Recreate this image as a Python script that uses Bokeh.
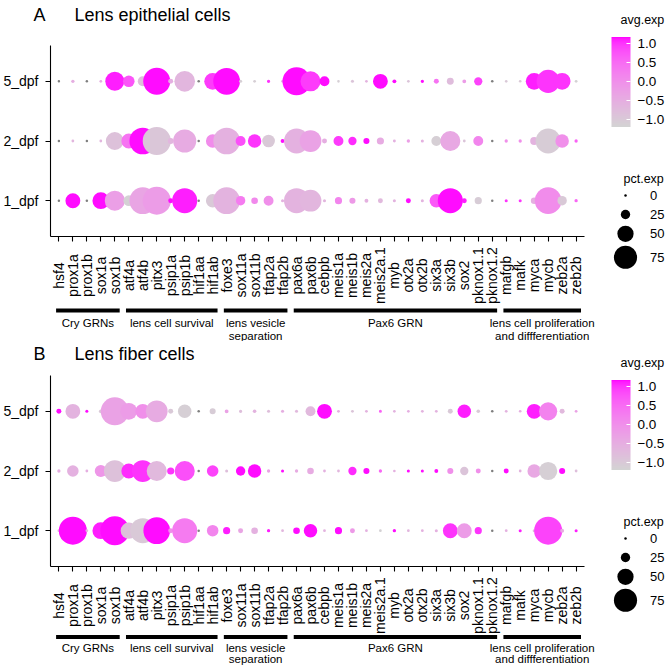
import math
import numpy as np
from bokeh.plotting import figure
from bokeh.models import (ColumnDataSource, FactorRange, Range1d, LinearColorMapper,
                          ColorBar, FixedTicker, CustomJSTickFormatter)
from bokeh.layouts import column, row
from bokeh.transform import transform
from bokeh.core.properties import value
from bokeh.embed import file_html
from bokeh.resources import INLINE

nan = float("nan")

# ---------------- DATA ----------------
genes = ["hsf4", "prox1a", "prox1b", "sox1a", "sox1b", "atf4a", "atf4b", "pitx3", "psip1a", "psip1b",
         "hif1aa", "hif1ab", "foxe3", "sox11a", "sox11b", "tfap2a", "tfap2b", "pax6a", "pax6b", "cebpb",
         "meis1a", "meis1b", "meis2a", "meis2a.1", "myb", "otx2a", "otx2b", "six3a", "six3b", "sox2",
         "pknox1.1", "pknox1.2", "mafgb", "mafk", "myca", "mycb", "zeb2a", "zeb2b"]
days = ["1_dpf", "2_dpf", "5_dpf"]

# Panel A: lens epithelial cells
pct_A_5dpf = [0, 3, 0, 1, 60, 33, 27, 89, 9, 66, 0, 52, 88, 2, 1, 3, 1, 93, 64, 27,
              0.5, 2, 0.5, 45, 5, 0.5, 3, 9, 16, 5, 21, 0, 0.5, 0.5, 52, 75, 52, 1]
avg_A_5dpf = [nan, -0.5, nan, -0.5, 1.1, 0.75, -0.8, 1.15, -0.5, -0.65, nan, 0.95, 1.15, -1.1, -1.1, 1.0, -0.6, 1.15, 0.95, 1.15,
              -1.1, -0.9, -0.6, 1.15, 1.15, -0.9, 1.15, 0.4, -0.75, -0.2, 0.9, nan, -1.0, -1.0, 1.1, 1.0, 1.0, -1.15]
pct_A_2dpf = [0, 1, 0, 1, 56, 45, 88, 93, 12, 75, 0, 40, 88, 27, 40, 37, 5, 82, 70, 9,
              27, 21, 13, 17, 1.5, 3, 2, 27, 64, 1, 27, 0, 3, 3, 20, 82, 40, 3]
avg_A_2dpf = [nan, -0.65, nan, -0.65, -0.85, 0.4, 1.15, -0.95, -0.65, -0.45, nan, 0.05, -0.55, 0.8, 1.0, -1.0, 1.15, -0.55, -0.3, -0.5,
              0.95, 1.05, 1.15, -0.45, -0.55, -0.25, -0.55, -1.1, -0.4, -0.9, 0.15, nan, 0.0, 0.0, -0.6, -1.05, 0.0, 0.6]
pct_A_1dpf = [0, 45, 0, 52, 64, 30, 88, 93, 9, 82, 0, 40, 88, 25, 15, 27, 2, 82, 70, 2,
              17, 13, 5, 9, 2, 9, 2, 40, 82, 9, 17, 0, 2, 2, 15, 88, 25, 3]
avg_A_1dpf = [nan, 1.15, nan, 1.15, -0.25, -1.15, -0.35, -0.2, 1.15, 1.1, nan, -1.0, -0.6, 0.3, 0.1, 0.0, -0.55, -0.6, -0.65, -0.65,
              0.15, -0.15, -0.55, -0.7, -0.6, 1.15, -0.6, 0.7, 1.15, 1.1, -1.05, nan, 1.0, 1.0, -0.5, 0.05, -1.0, 0.55]

# Panel B: lens fiber cells
pct_B_5dpf = [9, 45, 2, 5, 93, 52, 45, 70, 9, 40, 0, 13, 5, 3, 4, 2, 2, 2, 27, 45,
              1, 1, 1, 2, 0.5, 0.5, 1, 1, 9, 40, 4, 0, 1, 0.5, 45, 57, 9, 1]
avg_B_5dpf = [1.15, -0.6, 1.15, -1.0, -0.3, -0.2, 0.0, -0.45, -1.0, -1.1, nan, -1.05, -0.3, -0.8, -0.6, -0.8, -0.5, -0.7, -0.7, 1.15,
              -0.5, -0.9, -0.6, 0.6, -0.6, -0.5, -0.6, -0.6, -1.0, 1.1, -1.0, nan, -0.6, -0.5, 1.1, 0.2, -0.7, -0.3]
pct_B_2dpf = [3, 33, 1, 35, 70, 45, 70, 64, 17, 64, 0, 33, 2, 25, 40, 3, 2, 3, 15, 1,
              1, 21, 13, 3, 0.5, 2, 2, 5, 13, 21, 9, 0, 9, 1, 40, 57, 13, 1]
avg_B_2dpf = [-0.5, -0.55, -0.5, -0.1, -0.85, 1.05, 1.0, -0.7, 1.0, 0.8, nan, 0.9, -0.8, 1.15, 1.15, -0.3, 1.15, -0.45, -0.45, -0.55,
              -0.65, 1.05, 1.15, 0.55, -0.55, 1.15, 1.15, 1.15, 0.0, -0.9, 0.0, nan, 1.15, -0.6, -0.4, -1.1, 1.15, -0.8]
pct_B_1dpf = [1, 93, 1, 52, 96, 50, 82, 88, 9, 82, 0, 33, 17, 9, 15, 3, 1, 15, 40, 1,
              17, 9, 1, 1, 3, 1, 1, 2, 45, 45, 17, 0, 1, 2, 2, 93, 5, 2]
avg_B_1dpf = [-0.65, 1.15, -0.65, 1.1, 1.15, -0.85, -1.0, 1.15, 0.0, 0.3, nan, 0.15, 1.1, -0.35, -0.55, 1.1, -0.65, 1.15, 1.15, -0.6,
              1.15, -0.15, -0.55, -1.15, 1.15, -0.65, -0.55, -0.55, 1.0, -0.2, 1.0, nan, -0.55, 1.1, -0.7, 0.9, -0.45, 1.1]

group_line1 = ["Cry GRNs", "lens cell survival", "lens vesicle", "Pax6 GRN", "lens cell proliferation"]
group_line2 = ["", "", "separation", "", "and diffferentiation"]
group_first = ["hsf4", "atf4a", "foxe3", "pax6a", "mafgb"]
group_last = ["sox1b", "hif1ab", "tfap2b", "pknox1.2", "zeb2b"]

legend_pct = [0, 25, 50, 75]
legend_pct_labels = ["0", "25", "50", "75"]
colorbar_ticks = [-1.0, -0.5, 0.0, 0.5, 1.0]

# ---------------- STYLE ----------------
FONT = "Liberation Sans"


def dot_size(p):
    return 2.5 + 0.275 * p


def _lin(c):
    c = c / 255.0
    return c / 12.92 if c <= 0.04045 else ((c + 0.055) / 1.055) ** 2.4


def _gam(c):
    c = 12.92 * c if c <= 0.0031308 else 1.055 * c ** (1 / 2.4) - 0.055
    return int(min(255, max(0, round(c * 255))))


def rgb2lab(rgb):
    r, g, b = [_lin(v) for v in rgb]
    X = 0.4124564 * r + 0.3575761 * g + 0.1804375 * b
    Y = 0.2126729 * r + 0.7151522 * g + 0.0721750 * b
    Z = 0.0193339 * r + 0.1191920 * g + 0.9503041 * b

    def f(t):
        return t ** (1 / 3) if t > (6 / 29) ** 3 else t / (3 * (6 / 29) ** 2) + 4 / 29
    fx, fy, fz = f(X / 0.95047), f(Y / 1.0), f(Z / 1.08883)
    return (116 * fy - 16, 500 * (fx - fy), 200 * (fy - fz))


def lab2hex(lab):
    L, a, b = lab
    fy = (L + 16) / 116
    fx = fy + a / 500
    fz = fy - b / 200

    def finv(t):
        return t ** 3 if t > 6 / 29 else 3 * (6 / 29) ** 2 * (t - 4 / 29)
    X, Y, Z = 0.95047 * finv(fx), finv(fy), 1.08883 * finv(fz)
    r = 3.2404542 * X - 1.5371385 * Y - 0.4985314 * Z
    g = -0.9692660 * X + 1.8760108 * Y + 0.0415560 * Z
    bb = 0.0556434 * X - 0.2040259 * Y + 1.0572252 * Z
    return "#%02x%02x%02x" % tuple(_gam(max(0.0, min(1.0, v))) for v in (r, g, bb))


lo_lab = rgb2lab((211, 211, 211))
hi_lab = rgb2lab((255, 0, 255))
palette = [lab2hex(tuple(lo_lab[k] + (hi_lab[k] - lo_lab[k]) * t / 255 for k in range(3))) for t in range(256)]
mapper = LinearColorMapper(palette=palette, low=-1.19, high=1.17, nan_color="#7f7f7f")

LEFT_W, LEG_W = 600, 65
BL, BR = 49, 16
FRAME_H = 191
MAIN_BOTTOM = 10
MAIN_H = FRAME_H + MAIN_BOTTOM


def source_for(p5, a5, p2, a2, p1, a1):
    gx, dy, pc, av = [], [], [], []
    for d, pl, al in (("1_dpf", p1, a1), ("2_dpf", p2, a2), ("5_dpf", p5, a5)):
        for g, pv, avv in zip(genes, pl, al):
            gx.append(g)
            dy.append(d)
            pc.append(pv)
            av.append(avv)
    pc = np.array(pc, dtype=float)
    return ColumnDataSource(dict(gene=gx, day=dy, pct=pc, avg=np.array(av, dtype=float),
                                 size=dot_size(pc)))


def blank(width, height, xr, yr, left=0, right=0):
    p = figure(width=width, height=height, x_range=xr, y_range=yr,
               x_axis_location=None, y_axis_location=None,
               toolbar_location=None, output_backend="svg",
               outline_line_color=None, background_fill_color="white",
               border_fill_color="white", min_border=0,
               min_border_left=left, min_border_right=right,
               min_border_top=0, min_border_bottom=0)
    p.grid.visible = False
    return p


def header(letter, title, h, base):
    # data x equals canvas x: frame spans BL..LEFT_W-BR
    p = blank(LEFT_W, h, Range1d(BL, LEFT_W - BR), Range1d(h, 0), BL, BR)
    p.text(x=[32, 73], y=[base, base], text=[letter, title], text_font=value(FONT),
           text_font_size=value("18px"), text_color="black", text_baseline="alphabetic",
           text_align="left", level="overlay")
    return p


def main_fig(src, xr):
    yr = FactorRange(factors=days, range_padding=0.1, range_padding_units="absolute")
    p = figure(width=LEFT_W, height=MAIN_H, x_range=xr, y_range=yr, toolbar_location=None,
               output_backend="svg", min_border_left=BL, min_border_right=BR,
               min_border_top=0, min_border_bottom=MAIN_BOTTOM, outline_line_color=None,
               background_fill_color="white", border_fill_color="white")
    p.xgrid.visible = False
    p.ygrid.visible = False
    p.scatter("gene", "day", size="size", source=src,
              fill_color=transform("avg", mapper), line_color=None)
    xa = p.xaxis[0]
    xa.major_label_text_color = None
    xa.major_label_text_font_size = "1px"
    xa.major_label_standoff = 0
    xa.major_tick_out = 5
    xa.major_tick_in = 0
    xa.axis_line_width = 1.1
    xa.major_tick_line_width = 1.1
    xa.axis_line_color = "black"
    xa.major_tick_line_color = "black"
    ya = p.yaxis[0]
    ya.major_label_text_font = FONT
    ya.major_label_text_font_size = "14px"
    ya.major_label_text_color = "black"
    ya.major_label_standoff = 7
    ya.major_tick_out = 5
    ya.major_tick_in = 0
    ya.axis_line_width = 1.1
    ya.major_tick_line_width = 1.1
    ya.axis_line_color = "black"
    ya.major_tick_line_color = "black"
    return p


def annot_fig(xr, h, gene_y, bar_y, l1_y, l2_y):
    p = blank(LEFT_W, h, xr, Range1d(h, 0), BL, BR)
    p.text(x=genes, y=[gene_y] * len(genes), text=genes, angle=math.pi / 2,
           text_align="center", text_baseline="middle", text_font=value(FONT),
           text_font_size=value("14px"), text_color="black", level="overlay")
    x0 = [genes.index(g) + 0.5 - 0.2 for g in group_first]
    x1 = [genes.index(g) + 0.5 + 0.35 for g in group_last]
    xc = [(a + b) / 2 for a, b in zip(x0, x1)]
    p.segment(x0=x0, y0=[bar_y] * len(x0), x1=x1, y1=[bar_y] * len(x0),
              line_width=4, line_color="black", line_cap="butt", level="overlay")
    p.text(x=xc, y=[l1_y] * len(xc), text=group_line1, text_align="center",
           text_baseline="alphabetic", text_font=value(FONT),
           text_font_size=value("11.5px"), text_color="black", level="overlay")
    idx2 = [i for i, t in enumerate(group_line2) if t]
    p.text(x=[xc[i] for i in idx2], y=[l2_y] * len(idx2), text=[group_line2[i] for i in idx2],
           text_align="center", text_baseline="alphabetic", text_font=value(FONT),
           text_font_size=value("11.5px"), text_color="black", level="overlay")
    return p


def legend_fig(h, dy):
    p = blank(LEG_W, h, Range1d(0, LEG_W), Range1d(h, 0))
    p.text(x=[20, 23], y=[19 + dy, 178 + dy], text=["avg.exp", "pct.exp"],
           text_font=value(FONT), text_font_size=value("12.5px"), text_color="black",
           text_baseline="alphabetic", text_align="left")
    bar_top, bar_h = 36.5 + dy, 90
    cb = ColorBar(color_mapper=mapper, orientation="vertical", width=19, height=bar_h,
                  location=(11, h - (bar_top + bar_h)), padding=0, margin=0, title=None,
                  ticker=FixedTicker(ticks=colorbar_ticks),
                  formatter=CustomJSTickFormatter(
                      code='return (tick < 0 ? "\\u2212" : "") + Math.abs(tick).toFixed(1);'),
                  major_label_text_font=FONT, major_label_text_font_size="13.5px",
                  major_label_text_color="black", label_standoff=7,
                  major_tick_line_color="white", major_tick_in=4, major_tick_out=0,
                  minor_tick_line_color=None, bar_line_color=None, border_line_color=None,
                  background_fill_color=None)
    p.add_layout(cb, "center")
    ys = [195 + dy, 214 + dy, 233.3 + dy, 256.7 + dy]
    p.scatter(x=[25] * 4, y=ys, size=[dot_size(v) for v in legend_pct],
              fill_color="black", line_color=None)
    p.text(x=[49.5] * 4, y=ys, text=legend_pct_labels, text_font=value(FONT),
           text_font_size=value("13px"), text_color="black", text_baseline="middle",
           text_align="left")
    return p


srcA = source_for(pct_A_5dpf, avg_A_5dpf, pct_A_2dpf, avg_A_2dpf, pct_A_1dpf, avg_A_1dpf)
srcB = source_for(pct_B_5dpf, avg_B_5dpf, pct_B_2dpf, avg_B_2dpf, pct_B_1dpf, avg_B_1dpf)

xrA = FactorRange(factors=genes, range_padding=0.1, range_padding_units="absolute")
xrB = FactorRange(factors=genes, range_padding=0.1, range_padding_units="absolute")

# panel A: rows 0..341 (header 45, main 201, annotation 95)
hdrA = header("A", "Lens epithelial cells", 45, 14)
mainA = main_fig(srcA, xrA)
annA = annot_fig(xrA, 95, 29, 64, 76.5, 89)
legA = legend_fig(341, 0)

# panel B: rows 341..665 (header 34, main 201, annotation 89)
hdrB = header("B", "Lens fiber cells", 34, 12)
mainB = main_fig(srcB, xrB)
annB = annot_fig(xrB, 89, 29, 60.5, 71, 82)
legB = legend_fig(324, 2)

layout = column(row(column(hdrA, mainA, annA), legA),
                row(column(hdrB, mainB, annB), legB))

open("out.html", "w").write(file_html(layout, INLINE))
